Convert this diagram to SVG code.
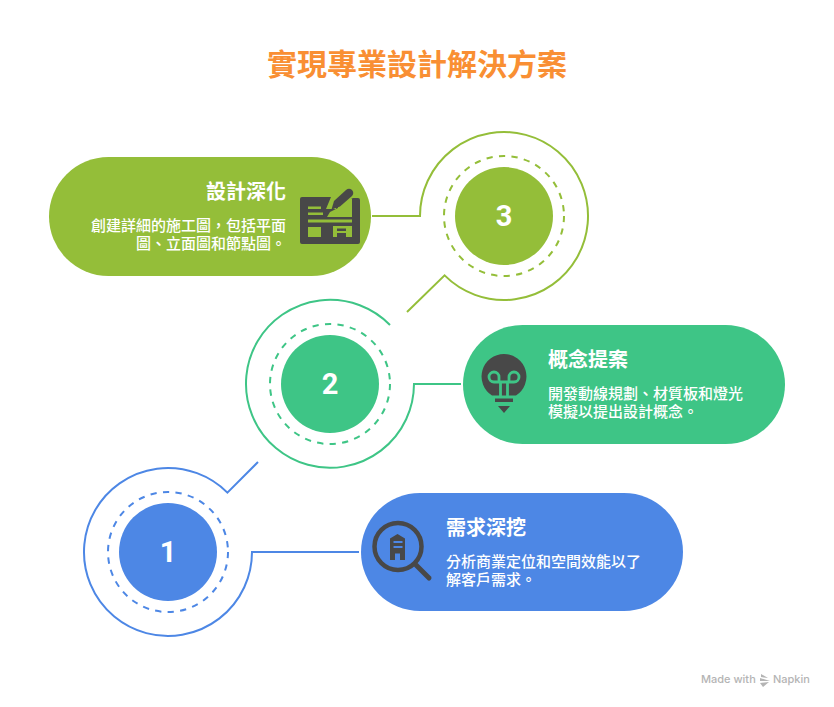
<svg xmlns="http://www.w3.org/2000/svg" width="834" height="707" viewBox="0 0 834 707">
<style>
text{font-family:"Noto Sans CJK TC","Noto Sans CJK SC",sans-serif;fill:#fff}
.title{font-size:30px;font-weight:700;fill:#F98F33;text-anchor:middle}
.head{font-size:20px;font-weight:700}
.body{font-size:15px;font-weight:500}
.num{font-family:Roboto,"Liberation Sans",sans-serif;font-size:29px;font-weight:700;text-anchor:middle}
.end{text-anchor:end}
.ln{fill:none;stroke-width:2}
.dash{fill:none;stroke-width:2;stroke-dasharray:6.3 6.3}
.g{stroke:#94BE39}.t{stroke:#3EC586}.b{stroke:#4D87E5}
.ic{fill:#484848}
.mark{font-family:Inter,"Liberation Sans",sans-serif;font-size:11px;font-weight:500;fill:#B4B4B4}
</style>
<rect width="834" height="707" fill="#fff"/>
<text class="title" x="417" y="75">實現專業設計解決方案</text>
<g id="connectors">
<path class="ln g" d="M372 216H420A84 84 0 1 1 444.600 275.400L407 312"/>
<path class="ln t" d="M461 384H414A84 84 0 1 1 390 325"/>
<path class="ln b" d="M359 552H252A84 84 0 1 1 227.400 492.600L258 462"/>
</g>
<g id="node-3">
<rect x="49" y="157" width="322" height="119" rx="59.500" fill="#94BE39"/>
<text class="head end" x="286" y="199">設計深化</text>
<text class="body end" x="286" y="231">創建詳細的施工圖，包括平面<tspan x="286" dy="18">圖、立面圖和節點圖。</tspan></text>
<path class="ic" d="M302 197H331L326 209H336V199H351L353 198H358Q360 198 360 200V242Q360 244 358 244H302Q300 244 300 242V199Q300 197 302 197Z"/>
<path fill="#94BE39" d="M308 206.500H321V209H308ZM308 212.500H323V215H308ZM308 219.500H352V222.500H308ZM338 199H352V217H327L330 212L338 208ZM308 227H321V237H308ZM333 226H352V237H333Z"/>
<path class="ic" d="M331.500 209.500L334 201L346 190Q349 187.500 352 190Q354.500 193 352 196L340 206.500Z"/>
<path class="ic" d="M337 228.500H346V231H337ZM337 233H346V237H337Z"/>
<circle cx="504" cy="216" r="49" fill="#94BE39"/>
<circle class="dash g" cx="504" cy="216" r="60"/>
<text class="num" x="504" y="226">3</text>
</g>
<g id="node-2">
<rect x="463" y="325" width="322" height="119" rx="59.500" fill="#3EC586"/>
<text class="head" x="548" y="367">概念提案</text>
<text class="body" x="548" y="399">開發動線規劃、材質板和燈光<tspan x="548" dy="18">模擬以提出設計概念。</tspan></text>
<path class="ic" d="M504 354A22.500 22.500 0 0 1 516 395.500H492A22.500 22.500 0 0 1 504 354ZM495 398.500H513V402H495ZM498 406H510L504 413Z"/>
<path fill="none" stroke="#3EC586" stroke-width="2.800" d="M500.500 396V382H494A5 5 0 1 1 499 377V382M507.500 396V382H514A5 5 0 1 0 509 377V382M499 382H509"/>
<circle cx="330" cy="384" r="49" fill="#3EC586"/>
<circle class="dash t" cx="330" cy="384" r="60"/>
<text class="num" x="330" y="394">2</text>
</g>
<g id="node-1">
<rect x="361" y="493" width="322" height="118" rx="59" fill="#4D87E5"/>
<text class="head" x="446" y="535">需求深挖</text>
<text class="body" x="446" y="567">分析商業定位和空間效能以了<tspan x="446" dy="18">解客戶需求。</tspan></text>
<circle cx="398" cy="546.500" r="23.500" fill="none" stroke="#484848" stroke-width="4.500"/>
<path fill="none" stroke="#484848" stroke-width="5" stroke-linecap="round" d="M416 565L429 578"/>
<path class="ic" fill-rule="evenodd" d="M397.500 534L405 538.500V560H400V553.500H395V560H390V538.500ZM393.500 541V543H402.500V541ZM393.500 546V548H402.500V546Z"/>
<circle cx="168" cy="552" r="49" fill="#4D87E5"/>
<circle class="dash b" cx="168" cy="552" r="60"/>
<text class="num" x="168" y="562">1</text>
</g>
<g id="watermark">
<text class="mark" x="701" y="683">Made with</text>
<path fill="#B4B4B4" d="M761 674L768 678L761 677ZM760 678L770 681L760 681ZM760 683L769 682L763 687Z"/>
<text class="mark" x="773" y="683">Napkin</text>
</g>
</svg>
